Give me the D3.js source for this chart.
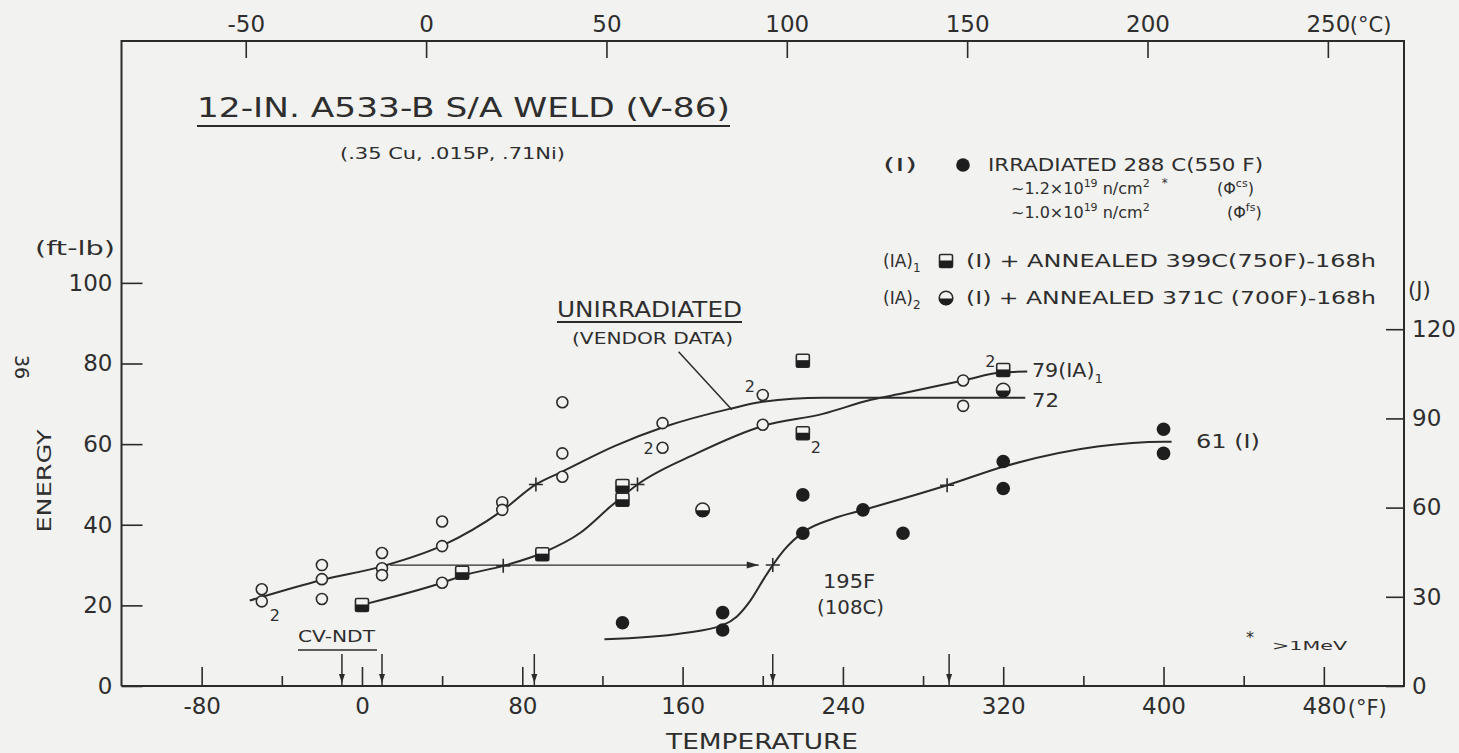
<!DOCTYPE html>
<html><head><meta charset="utf-8">
<script src="https://cdn.jsdelivr.net/npm/d3@7"></script>
<style>
html,body{margin:0;padding:0;background:#f2f2f0;}
svg{display:block;}
text{font-family:"DejaVu Sans",sans-serif;fill:#2e2e2e;}
</style></head><body>
<svg id="c" width="1459" height="753"></svg>
<script>
// ---------------- DATA (°F, ft-lb) ----------------
// Unirradiated (vendor data) – open circles
const unirrTemp   = [-50,-50,-20,-20,-20,10,10,10,40,40,40,70,70,100,100,100,150,150,200,200,300,300];
const unirrEnergy = [24,21,30,26.5,21.6,33,29.2,27.5,40.8,34.7,25.6,45.6,43.7,70.4,57.7,51.9,65.2,59.1,72.2,64.8,75.8,69.5];
// (IA)1 – irradiated + annealed 399C(750F)-168h – half-filled squares
const ia1Temp   = [0,50,90,130,130,220,220,320];
const ia1Energy = [20.1,28.1,32.7,49.6,46.2,80.7,62.7,78.4];
// (IA)2 – irradiated + annealed 371C(700F)-168h – half-filled circles
const ia2Temp   = [170,320];
const ia2Energy = [43.7,73.4];
// (I) – irradiated 288C(550F) – filled circles
const irrTemp   = [130,180,180,220,220,250,270,320,320,400,400];
const irrEnergy = [15.7,18.2,13.9,47.4,37.9,43.7,37.9,55.7,49.0,63.7,57.7];

// Hand-drawn trend curves
const unirrCurveT = [-56,-20,11,40,70,86.8,100,126,151,184,200,230,260,331];
const unirrCurveE = [21.2,26.3,29.8,34.8,43.5,50,53.2,59.5,64.3,68.8,70.5,71.5,71.5,71.5];
const ia1CurveT = [3,40,51,70.5,90,109,124,137.5,167,200,230,254,270,300,320,332];
const ia1CurveE = [20.5,25.6,27.5,29.8,33,38,44.5,50,57.7,64.5,67.5,71,72.6,75.8,77.8,78];
const irrCurveT = [121,160,180,187,194,200.7,205,210.6,220.6,235.6,250.5,270,292,320,367,400,404];
const irrCurveE = [11.6,13.1,15.1,17.2,21.3,26.7,30,33.7,38.3,41.6,43.7,46.5,49.8,54.4,59.4,60.6,60.6];

// Index temperatures ("+" marks) and shift arrow
const crossTemp   = [86.8,70.5,137.5,205,292];
const crossEnergy = [50,29.8,50,30,49.8];
const shiftFrom = 14, shiftTo = 198, shiftEnergy = 30;
// Cv-NDT arrows on the temperature axis
const ndtTemps = [-10,10,86,205,293];
// multiplicity labels ("2")
const countTemp   = [-50,150,200,220,320];
const countEnergy = [21,59.1,72.2,62.7,78.4];
const countPlace  = ["br","l","tl","br","tl"];

// Axis ticks
const fMajor = [-80,0,80,160,240,320,400,480];
const fMinor = [-40,40,120,200,280,360,440];
const cTicks = [-50,0,50,100,150,200,250];
const eTicks = [0,20,40,60,80,100];
const jTicks = [0,30,60,90,120];

// ---------------- SCALES ----------------
const svg = d3.select("#c");
const BG = "#f2f2f0", INK = "#2b2b2b";
const L = 121.5, R = 1404, T = 41, B = 686;
const f2c = f => (f - 32) * 5 / 9;
const x  = d3.scaleLinear().domain([-120, 520]).range([L, R]);
const xC = d3.scaleLinear().domain([f2c(-120), f2c(520)]).range([L, R]);
const y  = d3.scaleLinear().domain([0, 160]).range([B, T]);
const yJ = d3.scaleLinear().domain([0, 160 * 1.3558]).range([B, T]);

function txt(str, px, py, size, o = {}) {
  const t = svg.append("text").attr("x", px).attr("y", py)
    .attr("font-size", size).text(str);
  if (o.anchor) t.attr("text-anchor", o.anchor);
  if (o.len) t.attr("textLength", o.len).attr("lengthAdjust", "spacingAndGlyphs");
  return t;
}

// ---------------- AXES ----------------
function styleAxis(g) {
  g.select(".domain").remove();
  g.attr("font-family", "DejaVu Sans, sans-serif").attr("font-size", 23).attr("color", INK);
  g.selectAll(".tick line").attr("stroke-width", 1.6);
}
svg.append("g").attr("transform", `translate(0,${B})`)
  .call(d3.axisBottom(x).tickValues(fMajor).tickSize(-19).tickPadding(12).tickFormat(d => String(d)))
  .call(styleAxis);
svg.append("g").attr("transform", `translate(0,${B})`)
  .call(d3.axisBottom(x).tickValues(fMinor).tickSize(-10).tickFormat(""))
  .call(styleAxis);
svg.append("g").attr("transform", `translate(0,${T})`)
  .call(d3.axisTop(xC).tickValues(cTicks).tickSize(-17).tickPadding(9).tickFormat(d => String(d)))
  .call(styleAxis);
svg.append("g").attr("transform", `translate(${L},0)`)
  .call(d3.axisLeft(y).tickValues(eTicks).tickSize(-21).tickPadding(9).tickFormat(d => String(d)))
  .call(styleAxis);
svg.append("g").attr("transform", `translate(${R},0)`)
  .call(d3.axisRight(yJ).tickValues(jTicks).tickSize(-18).tickPadding(8).tickFormat(d => String(d)))
  .call(styleAxis);

// frame
const frame = svg.append("g").attr("stroke", INK).attr("stroke-width", 2).attr("fill", "none");
frame.append("path").attr("d", `M${L},${B}V${T}H${R}V${B}H${L}`);

// unit labels
txt("(°C)", xC(250) + 22, 32, 21);
txt("(°F)", x(480) + 24, B + 29, 21);
txt("(J)", R + 4, 297, 21);
txt("(ft-lb)", 35, 255, 19, {len: 80});
svg.append("text").attr("transform", "translate(44,481) rotate(-90)")
  .attr("text-anchor", "middle").attr("dy", "0.36em").attr("font-size", 20)
  .attr("textLength", 103).attr("lengthAdjust", "spacingAndGlyphs").text("ENERGY");
svg.append("text").attr("transform", "translate(22,367) rotate(90)")
  .attr("text-anchor", "middle").attr("dy", "0.36em").attr("font-size", 19).text("36");
txt("TEMPERATURE", 762, 749, 22, {anchor: "middle", len: 192});

// title
txt("12-IN. A533-B S/A WELD (V-86)", 197, 117, 27, {len: 533});
svg.append("line").attr("x1", 197).attr("x2", 730).attr("y1", 126).attr("y2", 126)
  .attr("stroke", INK).attr("stroke-width", 2.2);
txt("(.35 Cu, .015P, .71Ni)", 340, 159, 16, {len: 225});

// ---------------- CURVES ----------------
const line = d3.line().x(d => x(d[0])).y(d => y(d[1])).curve(d3.curveMonotoneX);
const curves = svg.append("g").attr("fill", "none").attr("stroke", INK).attr("stroke-width", 2);
curves.append("path").attr("d", line(unirrCurveT.map((t, i) => [t, unirrCurveE[i]])));
curves.append("path").attr("d", line(ia1CurveT.map((t, i) => [t, ia1CurveE[i]])));
curves.append("path").attr("d", line(irrCurveT.map((t, i) => [t, irrCurveE[i]])));

// shift arrow at 30 ft-lb
svg.append("line").attr("x1", x(shiftFrom)).attr("x2", x(shiftTo))
  .attr("y1", y(shiftEnergy)).attr("y2", y(shiftEnergy))
  .attr("stroke", INK).attr("stroke-width", 1.3);
svg.append("path")
  .attr("d", `M${x(shiftTo)},${y(shiftEnergy)}l-12,-3.5v7z`).attr("fill", INK);

// "+" index marks
svg.append("g").attr("stroke", INK).attr("stroke-width", 1.6)
  .selectAll("path").data(crossTemp).join("path")
  .attr("d", (t, i) => `M${x(t) - 7},${y(crossEnergy[i])}h14M${x(t)},${y(crossEnergy[i]) - 7}v14`);

// Cv-NDT arrows on the axis
const nd = svg.append("g");
ndtTemps.forEach(t => {
  nd.append("line").attr("x1", x(t)).attr("x2", x(t)).attr("y1", B - 32).attr("y2", B)
    .attr("stroke", INK).attr("stroke-width", 1.5);
  nd.append("path").attr("d", `M${x(t) - 3},${B - 12}L${x(t) + 3},${B - 12}L${x(t)},${B - 3}z`).attr("fill", INK);
});
txt("CV-NDT", 298, 642, 15, {len: 77});
svg.append("line").attr("x1", 298).attr("x2", 377).attr("y1", 650).attr("y2", 650)
  .attr("stroke", INK).attr("stroke-width", 1.5);

// leader for UNIRRADIATED
svg.append("line").attr("x1", x(158)).attr("y1", y(82.9)).attr("x2", x(184.6)).attr("y2", y(68.5))
  .attr("stroke", INK).attr("stroke-width", 1.5);
txt("UNIRRADIATED", 557, 317, 21, {len: 185});
svg.append("line").attr("x1", 557).attr("x2", 742).attr("y1", 322).attr("y2", 322)
  .attr("stroke", INK).attr("stroke-width", 2);
txt("(VENDOR DATA)", 572, 344, 16, {len: 161});

// ---------------- SYMBOLS ----------------
function openCircle(g, cx, cy) {
  g.append("circle").attr("cx", cx).attr("cy", cy).attr("r", 5.5)
    .attr("fill", BG).attr("stroke", INK).attr("stroke-width", 1.6);
}
function filledCircle(g, cx, cy) {
  g.append("circle").attr("cx", cx).attr("cy", cy).attr("r", 6.8).attr("fill", "#1e1e1e");
}
function halfSquare(g, cx, cy) {
  g.append("rect").attr("x", cx - 6.5).attr("y", cy - 6.5).attr("width", 13).attr("height", 13)
    .attr("rx", 1.5).attr("fill", BG).attr("stroke", INK).attr("stroke-width", 1.6);
  g.append("rect").attr("x", cx - 6.5).attr("y", cy - 0.5).attr("width", 13).attr("height", 7)
    .attr("fill", "#1e1e1e");
}
function halfCircle(g, cx, cy) {
  const r = 6.8;
  g.append("circle").attr("cx", cx).attr("cy", cy).attr("r", r)
    .attr("fill", BG).attr("stroke", INK).attr("stroke-width", 1.6);
  g.append("path").attr("d", `M${cx - r},${cy + 0.5}A${r},${r} 0 0 0 ${cx + r},${cy + 0.5}z`).attr("fill", "#1e1e1e");
}
const sym = svg.append("g");
unirrTemp.forEach((t, i) => openCircle(sym, x(t), y(unirrEnergy[i])));
ia1Temp.forEach((t, i) => halfSquare(sym, x(t), y(ia1Energy[i])));
ia2Temp.forEach((t, i) => halfCircle(sym, x(t), y(ia2Energy[i])));
irrTemp.forEach((t, i) => filledCircle(sym, x(t), y(irrEnergy[i])));

// multiplicity labels
const off = {br: [8, 20], l: [-19, 6], tl: [-18, -3]};
countTemp.forEach((t, i) => {
  const o = off[countPlace[i]];
  txt("2", x(t) + o[0], y(countEnergy[i]) + o[1], 16);
});

// curve end labels
const lab79 = txt("79(IA)", 1032, 377, 20, {len: 71});
lab79.append("tspan").attr("font-size", 13).attr("dy", 6).text("1");
txt("72", 1032, 407, 20, {len: 27});
txt("61 (I)", 1196, 448, 19, {len: 64});
txt("195F", 823, 588, 19, {len: 52});
txt("(108C)", 817, 614, 19, {len: 67});
txt("*", 1246, 643, 16);
txt(">1MeV", 1272, 650, 13, {len: 75});

// ---------------- LEGEND ----------------
txt("(I)", 883, 171, 17, {len: 34});
filledCircle(svg, 963, 165);
txt("IRRADIATED 288 C(550 F)", 988, 171, 17, {len: 275});

const l2 = txt("~1.2×10", 1011, 194, 16);
l2.append("tspan").attr("font-size", 11).attr("dy", -7).text("19");
l2.append("tspan").attr("dy", 7).text(" n/cm");
l2.append("tspan").attr("font-size", 11).attr("dy", -7).text("2");
l2.append("tspan").attr("font-size", 12).attr("dx", 12).text("*");
const p2 = txt("(Φ", 1217, 194, 16);
p2.append("tspan").attr("font-size", 11).attr("dy", -7).text("cs");
p2.append("tspan").attr("dy", 7).text(")");

const l3 = txt("~1.0×10", 1011, 218, 16);
l3.append("tspan").attr("font-size", 11).attr("dy", -7).text("19");
l3.append("tspan").attr("dy", 7).text(" n/cm");
l3.append("tspan").attr("font-size", 11).attr("dy", -7).text("2");
const p3 = txt("(Φ", 1227, 218, 16);
p3.append("tspan").attr("font-size", 11).attr("dy", -7).text("fs");
p3.append("tspan").attr("dy", 7).text(")");

const r1 = txt("(IA)", 883, 267, 17);
r1.append("tspan").attr("font-size", 12).attr("dy", 5).text("1");
halfSquare(svg, 946, 261);
txt("(I) + ANNEALED 399C(750F)-168h", 966, 267, 17, {len: 410});

const r2 = txt("(IA)", 883, 304, 17);
r2.append("tspan").attr("font-size", 12).attr("dy", 5).text("2");
halfCircle(svg, 946, 298);
txt("(I) + ANNEALED 371C (700F)-168h", 966, 304, 17, {len: 410});
</script>
</body></html>
